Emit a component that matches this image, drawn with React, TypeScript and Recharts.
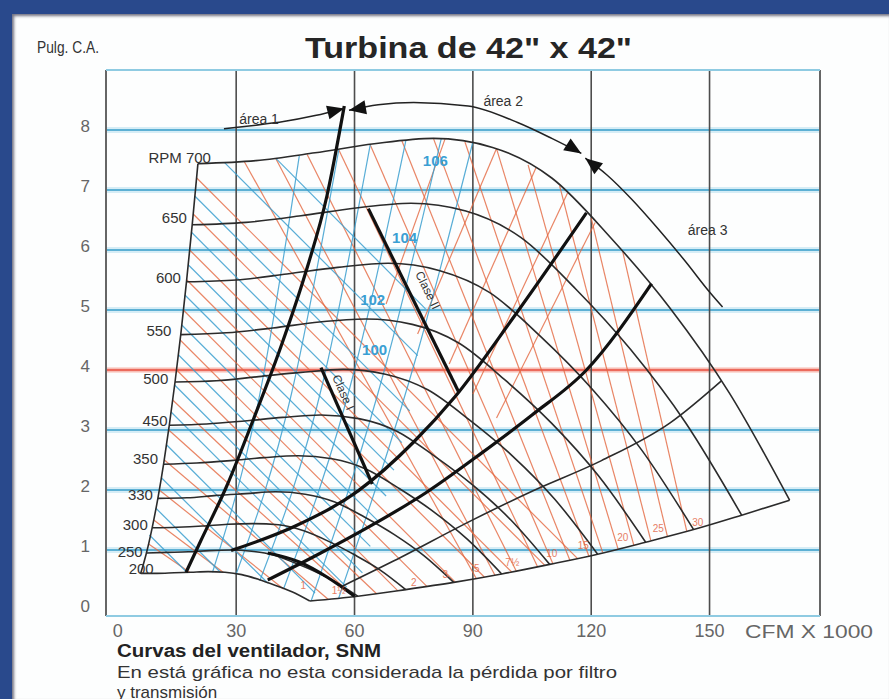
import React from 'react';
import { ComposedChart, Line, Scatter, XAxis, YAxis, ReferenceLine } from 'recharts';

// ---------- axes / grid ----------
const X_TICKS = [0, 30, 60, 90, 120, 150];
const Y_TICKS = [0, 1, 2, 3, 4, 5, 6, 7, 8];
const BLUE_GRID = [1, 2, 3, 5, 6, 7, 8];
const RED_GRID = [4];
const V_GRID = [30, 60, 90, 120, 150];

// ---------- RPM curves (CFM x1000, Pulg. C.A.) ----------
const Q700 = [20.3, 35, 50, 65, 80, 95, 110, 125, 140, 155, 170.3];
const P700 = [7.44, 7.49, 7.62, 7.77, 7.86, 7.71, 7.2, 6.2, 5.03, 3.62, 1.83];
const Q650 = [18.85, 32.5, 46.43, 60.36, 74.29, 88.21, 102.14, 116.07, 130, 143.93, 158.14];
const P650 = [6.42, 6.46, 6.57, 6.7, 6.78, 6.65, 6.21, 5.35, 4.34, 3.12, 1.58];
const Q600 = [17.4, 30, 42.86, 55.71, 68.57, 81.43, 94.29, 107.14, 120, 132.86, 145.97];
const P600 = [5.47, 5.5, 5.6, 5.71, 5.78, 5.66, 5.29, 4.56, 3.7, 2.66, 1.34];
const Q550 = [15.95, 27.5, 39.29, 51.07, 62.86, 74.64, 86.43, 98.21, 110, 121.79, 133.81];
const P550 = [4.59, 4.62, 4.7, 4.8, 4.85, 4.76, 4.45, 3.83, 3.11, 2.24, 1.13];
const Q500 = [14.5, 25, 35.71, 46.43, 57.14, 67.86, 78.57, 89.29, 100, 110.71, 121.64];
const P500 = [3.8, 3.82, 3.89, 3.96, 4.01, 3.93, 3.67, 3.16, 2.57, 1.85, 0.93];
const Q450 = [13.05, 22.5, 32.14, 41.79, 51.43, 61.07, 70.71, 80.36, 90, 99.64, 109.48];
const P450 = [3.08, 3.1, 3.15, 3.21, 3.25, 3.19, 2.98, 2.56, 2.08, 1.5, 0.76];
const Q400 = [11.6, 20, 28.57, 37.14, 45.71, 54.29, 62.86, 71.43, 80, 88.57, 97.31];
const P400 = [2.43, 2.45, 2.49, 2.54, 2.57, 2.52, 2.35, 2.02, 1.64, 1.18, 0.6];
const Q350 = [10.15, 17.5, 25, 32.5, 40, 47.5, 55, 62.5, 70, 77.5, 85.15];
const P350 = [1.86, 1.87, 1.91, 1.94, 1.97, 1.93, 1.8, 1.55, 1.26, 0.91, 0.46];
const Q300 = [8.7, 15, 21.43, 27.86, 34.29, 40.71, 47.14, 53.57, 60, 66.43, 72.99];
const P300 = [1.37, 1.38, 1.4, 1.43, 1.44, 1.42, 1.32, 1.14, 0.92, 0.67, 0.34];
const Q250 = [7.25, 12.5, 17.86, 23.21, 28.57, 33.93, 39.29, 44.64, 50, 55.36, 60.82];
const P250 = [0.95, 0.96, 0.97, 0.99, 1.0, 0.98, 0.92, 0.79, 0.64, 0.46, 0.23];
const Q200 = [5.8, 10, 14.29, 18.57, 22.86, 27.14, 31.43, 35.71, 40, 44.29, 48.66];
const P200 = [0.61, 0.61, 0.62, 0.63, 0.64, 0.63, 0.59, 0.51, 0.41, 0.3, 0.15];

const RPM_LABELS = ['RPM 700', '650', '600', '550', '500', '450', '350', '330', '300', '250', '200'];
const RPM_LABEL_Q = [23.6, 17.5, 16.0, 13.6, 12.8, 12.6, 10.2, 8.9, 7.6, 6.3, 9.1];
const RPM_LABEL_P = [7.45, 6.45, 5.45, 4.56, 3.76, 3.06, 2.43, 1.84, 1.34, 0.89, 0.6];

// envelope lines
const STALL_Q = [5.8, 7.25, 8.7, 10.15, 11.6, 13.05, 14.5, 15.95, 17.4, 18.85, 20.3];
const STALL_P = [0.61, 0.95, 1.37, 1.86, 2.43, 3.08, 3.8, 4.59, 5.47, 6.42, 7.44];
const BOTTOM_Q = [48.66, 60.82, 72.99, 85.15, 97.31, 109.48, 121.64, 133.81, 145.97, 158.14, 170.3];
const BOTTOM_P = [0.15, 0.23, 0.34, 0.46, 0.6, 0.76, 0.93, 1.13, 1.34, 1.58, 1.83];

// thin system line
const SYS_Q = [57, 70, 89.6, 105, 122.6, 140, 153];
const SYS_P = [0.4, 0.82, 1.49, 1.98, 2.49, 3.12, 3.82];

// thick lines
const THICK1_Q = [17.3, 21, 27.5, 34.5, 41.4, 47.5, 53, 57.4];
const THICK1_P = [0.63, 1.15, 2.05, 3.2, 4.4, 5.6, 6.9, 8.4];
const THICK2_Q = [28.7, 45, 61, 75, 85.3, 100, 118.8];
const THICK2_P = [0.99, 1.4, 1.99, 2.8, 3.54, 4.85, 6.62];
const THICK3_Q = [38, 50, 63.5, 78, 92.1, 105, 118.8, 135.3];
const THICK3_P = [0.5, 0.9, 1.38, 1.95, 2.61, 3.25, 4.0, 5.44];
const THICK4_Q = [38, 46, 53, 60];
const THICK4_P = [0.95, 0.8, 0.55, 0.23];
const CLASE1_Q = [51.5, 64.5];
const CLASE1_P = [4.04, 2.1];
const CLASE2_Q = [63.5, 86.5];
const CLASE2_P = [6.69, 3.62];

// red BHP lines (from stall line)
const R1_SQ = [7.8, 9.1, 10.5, 11.8, 12.9, 13.9, 14.9, 15.8, 16.6, 17.5, 18.2, 19.1, 20.0];
const R1_SP = [1.1, 1.5, 2.0, 2.5, 3.0, 3.5, 4.0, 4.5, 5.0, 5.5, 6.0, 6.6, 7.2];
const R1_EQ = [18.2, 26.7, 42, 53.3, 59.8, 65.6, 71, 78.4, 85.6, 92.9, 99.9, 108.3, 116.5];
const R1_EP = [0.63, 0.63, 0.35, 0.18, 0.23, 0.27, 0.32, 0.39, 0.46, 0.55, 0.63, 0.74, 0.86];
// red BHP lines (from top curve, steep)
const R2_SQ = [32, 40, 48, 56, 64, 72, 80, 88, 96, 104, 112, 120, 128];
const R2_SP = [7.48, 7.53, 7.59, 7.67, 7.75, 7.82, 7.86, 7.8, 7.69, 7.42, 7.07, 6.53, 5.97];
const R2_EQ = [90.9, 95.6, 101, 106.4, 110.3, 114.6, 119.4, 122.9, 126.8, 130.8, 135.1, 139.3, 144.2];
const R2_EP = [0.52, 0.58, 0.65, 0.72, 0.77, 0.83, 0.9, 0.96, 1.02, 1.08, 1.16, 1.23, 1.32];
// red rising lines
const R3_SQ = [68, 76, 84, 90, 96];
const R3_SP = [5.1, 4.6, 4.1, 3.6, 3.2];
const R3_EQ = [83, 96, 106, 114, 121];
const R3_EP = [7.86, 7.69, 7.37, 6.95, 6.46];
const RED_LABELS = ['1', '1½', '2', '3', '5', '7½', '10', '15', '20', '25', '30'];
const RED_LABEL_Q = [47, 56, 75, 83, 91, 100, 110, 118, 128, 137, 147];
const RED_LABEL_P = [0.42, 0.33, 0.47, 0.6, 0.7, 0.8, 0.95, 1.08, 1.22, 1.36, 1.47];

// blue lines (falling)
const B1_SQ = [8.0, 9.6, 11.1, 12.4, 13.5, 14.4, 15.4, 16.2, 17.0, 17.9, 18.6, 19.5, 27, 40];
const B1_SP = [1.25, 1.7, 2.2, 2.75, 3.3, 3.75, 4.25, 4.75, 5.25, 5.75, 6.3, 6.9, 7.46, 7.53];
const B1_EQ = [17.5, 26, 38, 50, 58, 62, 64, 66, 68, 70, 72, 74, 76, 78];
const B1_EP = [0.63, 0.63, 0.45, 0.28, 0.38, 0.62, 1.06, 1.48, 1.9, 2.33, 2.79, 3.32, 4.24, 5.02];
// blue lines (rising) : bottom, middle, top points
const B2_Q1 = [24, 30, 36, 42, 49, 56];
const B2_P1 = [0.63, 0.6, 0.49, 0.35, 0.15, 0.2];
const B2_Q2 = [36, 44, 52, 60, 68, 76];
const B2_P2 = [3.6, 3.6, 3.8, 4.0, 4.1, 4.3];
const B2_Q3 = [46, 56, 64, 73, 82, 90];
const B2_P3 = [7.57, 7.67, 7.76, 7.82, 7.86, 7.8];
const BLUE_LABELS = ['100', '102', '104', '106'];
const BLUE_LABEL_Q = [65.1, 64.6, 72.7, 80.5];
const BLUE_LABEL_P = [4.33, 5.16, 6.2, 7.49];

// area arcs
const AREA1_Q = [26.9, 35, 42, 50, 57.4];
const AREA1_P = [8.02, 8.08, 8.14, 8.24, 8.36];
const AREA2_Q = [58.6, 66, 75, 88.8, 101.5, 110, 117.5];
const AREA2_P = [8.33, 8.42, 8.46, 8.4, 8.12, 7.86, 7.61];
const AREA3_Q = [118.5, 124, 130.2, 137, 144, 150, 153.3];
const AREA3_P = [7.53, 7.25, 6.85, 6.35, 5.8, 5.3, 5.05];
const ARROW_Q = [57.4, 58.6, 117.5, 118.5];
const ARROW_P = [8.36, 8.33, 7.61, 7.53];
const ARROW_ANGLE = [-14, 170, 32, 218];
const AREA_LABELS = ['área 1', 'área 2', 'área 3'];
const AREA_LABEL_Q = [35.8, 97.7, 149.5];
const AREA_LABEL_P = [8.19, 8.49, 6.33];
const CLASE_LABELS = ['Clase I', 'Clase II'];
const CLASE_LABEL_Q = [56.2, 77.6];
const CLASE_LABEL_P = [3.6, 5.3];
const CLASE_ANGLE = [66, 64];

const FF = "'Liberation Sans', Arial, sans-serif";
const FFN = "'Liberation Sans Narrow', 'Arial Narrow', 'Liberation Sans', Arial, sans-serif";

const pts = (qs: number[], ps: number[]) => qs.map((q, i) => ({ x: q, y: ps[i] }));
const segs = (sq: number[], sp: number[], eq: number[], ep: number[]) =>
  sq.map((q, i) => [{ x: q, y: sp[i] }, { x: eq[i], y: ep[i] }]);

const RPM_CURVES = [
  pts(Q700, P700), pts(Q650, P650), pts(Q600, P600), pts(Q550, P550), pts(Q500, P500), pts(Q450, P450),
  pts(Q400, P400), pts(Q350, P350), pts(Q300, P300), pts(Q250, P250), pts(Q200, P200),
];

function XTick(props: any) {
  const { x, y, payload } = props;
  return (
    <text x={x} y={y + 13} textAnchor="middle" fill="#666" fontSize={18} fontFamily={FF}>
      {payload.value}
    </text>
  );
}
function YTick(props: any) {
  const { x, y, payload } = props;
  return (
    <text x={x - 8} y={y + 2} textAnchor="end" fill="#666" fontSize={17} fontFamily={FF}>
      {payload.value}
    </text>
  );
}

const mkLine = (key: string, data: any[], stroke: string, w: number, type: any = 'linear', op = 1) => (
  <Line
    key={key}
    data={data}
    dataKey="y"
    type={type}
    stroke={stroke}
    strokeWidth={w}
    strokeOpacity={op}
    dot={false}
    activeDot={false}
    isAnimationActive={false}
    legendType="none"
  />
);

export default function App() {
  const rpmLabels = RPM_LABELS.map((t, i) => ({ x: RPM_LABEL_Q[i], y: RPM_LABEL_P[i], t }));
  const blueLabels = BLUE_LABELS.map((t, i) => ({ x: BLUE_LABEL_Q[i], y: BLUE_LABEL_P[i], t }));
  const redLabels = RED_LABELS.map((t, i) => ({ x: RED_LABEL_Q[i], y: RED_LABEL_P[i], t }));
  const areaLabels = AREA_LABELS.map((t, i) => ({ x: AREA_LABEL_Q[i], y: AREA_LABEL_P[i], t }));
  const claseLabels = CLASE_LABELS.map((t, i) => ({ x: CLASE_LABEL_Q[i], y: CLASE_LABEL_P[i], t, a: CLASE_ANGLE[i] }));
  const arrows = ARROW_Q.map((q, i) => ({ x: q, y: ARROW_P[i], a: ARROW_ANGLE[i] }));
  const blueRise = B2_Q1.map((q, i) => [
    { x: q, y: B2_P1[i] },
    { x: B2_Q2[i], y: B2_P2[i] },
    { x: B2_Q3[i], y: B2_P3[i] },
  ]);

  return (
    <div style={{ position: 'absolute', left: 0, top: 0, width: 889, height: 699, background: '#29498c', overflow: 'hidden' }}>
      <div
        style={{
          position: 'absolute', left: 12, top: 14, width: 877, height: 685, background: '#fdfefe',
          boxShadow: 'inset 2px 2px 3px rgba(0,0,30,0.55)',
        }}
      />
      <div style={{ position: 'absolute', left: 0, top: 0 }}>
        <ComposedChart width={889} height={699} margin={{ top: 70, right: 69, bottom: 53, left: 46 }}>
          <XAxis
            type="number" dataKey="x" domain={[-3, 178]} allowDataOverflow ticks={X_TICKS} interval={0}
            axisLine={false} tickLine={false} height={30} tick={XTick}
          />
          <YAxis
            type="number" dataKey="y" domain={[-0.1, 9]} allowDataOverflow ticks={Y_TICKS} interval={0}
            axisLine={false} tickLine={false} width={60} tick={YTick}
          />
          {BLUE_GRID.map((v) => <ReferenceLine key={'bh' + v} y={v} stroke="#d6edf6" strokeWidth={6} />)}
          {BLUE_GRID.map((v) => <ReferenceLine key={'bc' + v} y={v} stroke="#5cb0d4" strokeWidth={2.2} />)}
          {RED_GRID.map((v) => <ReferenceLine key={'rh' + v} y={v} stroke="#fbdcd6" strokeWidth={6} />)}
          {RED_GRID.map((v) => <ReferenceLine key={'rc' + v} y={v} stroke="#ec6a5c" strokeWidth={2.4} />)}
          {V_GRID.map((v) => <ReferenceLine key={'v' + v} x={v} stroke="#4d4d4d" strokeWidth={1.6} />)}
          <ReferenceLine x={-3} stroke="#666" strokeWidth={2} />
          <ReferenceLine x={178} stroke="#666" strokeWidth={2} />
          <ReferenceLine y={9} stroke="#8fcbe2" strokeWidth={2} />
          <ReferenceLine y={-0.1} stroke="#8fcbe2" strokeWidth={2} />

          {segs(R1_SQ, R1_SP, R1_EQ, R1_EP).map((d, i) => mkLine('r1' + i, d, '#e4663f', 1.2, 'linear', 0.8))}
          {segs(R2_SQ, R2_SP, R2_EQ, R2_EP).map((d, i) => mkLine('r2' + i, d, '#e4663f', 1.2, 'linear', 0.8))}
          {segs(R3_SQ, R3_SP, R3_EQ, R3_EP).map((d, i) => mkLine('r3' + i, d, '#e4663f', 1.2, 'linear', 0.8))}
          {segs(B1_SQ, B1_SP, B1_EQ, B1_EP).map((d, i) => mkLine('b1' + i, d, '#3b9fcf', 1.2, 'linear', 0.85))}
          {blueRise.map((d, i) => mkLine('b2' + i, d, '#3b9fcf', 1.2, 'monotone', 0.85))}

          {RPM_CURVES.map((d, i) => mkLine('rpm' + i, d, '#2b2b2b', 1.6, 'monotone'))}
          {mkLine('stall', pts(STALL_Q, STALL_P), '#2b2b2b', 1.6, 'monotone')}
          {mkLine('bottom', pts(BOTTOM_Q, BOTTOM_P), '#2b2b2b', 1.6, 'monotone')}
          {mkLine('sys', pts(SYS_Q, SYS_P), '#2b2b2b', 1.6, 'monotone')}

          {mkLine('t1', pts(THICK1_Q, THICK1_P), '#111', 3.2, 'monotone')}
          {mkLine('t2', pts(THICK2_Q, THICK2_P), '#111', 3.2, 'monotone')}
          {mkLine('t3', pts(THICK3_Q, THICK3_P), '#111', 3.2, 'monotone')}
          {mkLine('t4', pts(THICK4_Q, THICK4_P), '#111', 3.2, 'monotone')}
          {mkLine('c1', pts(CLASE1_Q, CLASE1_P), '#111', 3.2)}
          {mkLine('c2', pts(CLASE2_Q, CLASE2_P), '#111', 3.2)}

          {mkLine('a1', pts(AREA1_Q, AREA1_P), '#222', 1.5, 'monotone')}
          {mkLine('a2', pts(AREA2_Q, AREA2_P), '#222', 1.5, 'monotone')}
          {mkLine('a3', pts(AREA3_Q, AREA3_P), '#222', 1.5, 'monotone')}

          <Scatter
            data={arrows} isAnimationActive={false} legendType="none"
            shape={(p: any) => (
              <polygon
                points="0,0 -17,-7 -17,7"
                fill="#111"
                transform={`translate(${p.cx},${p.cy}) rotate(${p.payload.a})`}
              />
            )}
          />
          <Scatter
            data={rpmLabels} isAnimationActive={false} legendType="none"
            shape={(p: any) => (
              <text x={p.cx} y={p.cy} textAnchor="end" fontSize={15} fontFamily={FF} fill="#333">
                {p.payload.t}
              </text>
            )}
          />
          <Scatter
            data={blueLabels} isAnimationActive={false} legendType="none"
            shape={(p: any) => (
              <text x={p.cx} y={p.cy + 5} textAnchor="middle" fontSize={15} fontWeight="bold" fontFamily={FF} fill="#3a9fd3">
                {p.payload.t}
              </text>
            )}
          />
          <Scatter
            data={redLabels} isAnimationActive={false} legendType="none"
            shape={(p: any) => (
              <text x={p.cx} y={p.cy + 4} textAnchor="middle" fontSize={10} fontFamily={FF} fill="#e2603c" opacity={0.8}>
                {p.payload.t}
              </text>
            )}
          />
          <Scatter
            data={areaLabels} isAnimationActive={false} legendType="none"
            shape={(p: any) => (
              <text x={p.cx} y={p.cy + 5} textAnchor="middle" fontSize={14} fontFamily={FF} fill="#333">
                {p.payload.t}
              </text>
            )}
          />
          <Scatter
            data={claseLabels} isAnimationActive={false} legendType="none"
            shape={(p: any) => (
              <text
                x={0} y={0} textAnchor="middle" fontSize={12} fontFamily={FF} fill="#333"
                transform={`translate(${p.cx},${p.cy}) rotate(${p.payload.a})`}
              >
                {p.payload.t}
              </text>
            )}
          />
        </ComposedChart>
      </div>
      <svg width={889} height={699} style={{ position: 'absolute', left: 0, top: 0, pointerEvents: 'none' }}>
        <text x={37} y={53} fontFamily={FFN} fontSize={17} fill="#333" textLength={62} lengthAdjust="spacingAndGlyphs">
          Pulg. C.A.
        </text>
        <text x={305} y={58} fontFamily={FFN} fontWeight="bold" fontSize={30} fill="#262626" textLength={327} lengthAdjust="spacingAndGlyphs">
          Turbina de 42" x 42"
        </text>
        <text x={745} y={638} fontFamily={FF} fontSize={18} fill="#666" textLength={128} lengthAdjust="spacingAndGlyphs">
          CFM X 1000
        </text>
        <text x={117} y={657} fontFamily={FF} fontWeight="bold" fontSize={18} fill="#222" textLength={264} lengthAdjust="spacingAndGlyphs">
          Curvas del ventilador, SNM
        </text>
        <text x={117} y={678} fontFamily={FF} fontSize={17} fill="#333" textLength={500} lengthAdjust="spacingAndGlyphs">
          En está gráfica no esta considerada la pérdida por filtro
        </text>
        <text x={117} y={698} fontFamily={FF} fontSize={17} fill="#333">
          y transmisión
        </text>
      </svg>
    </div>
  );
}
